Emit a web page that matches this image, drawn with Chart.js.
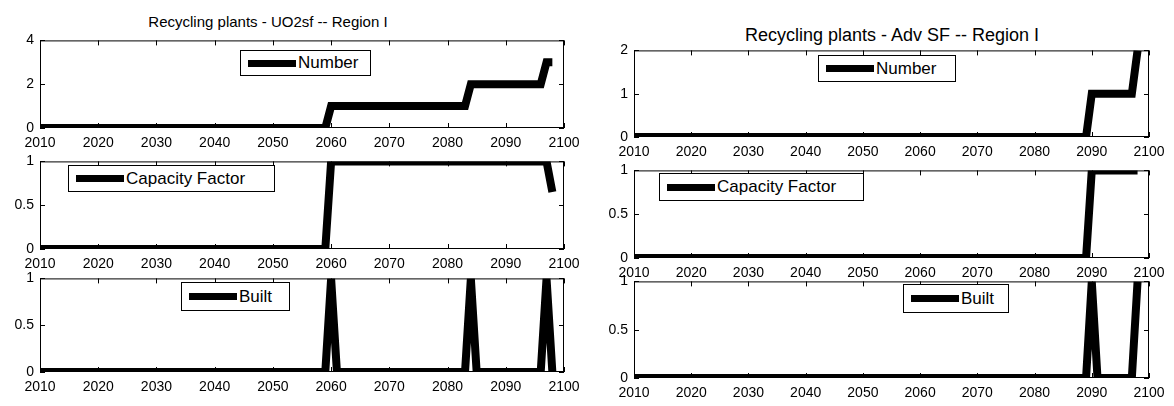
<!DOCTYPE html>
<html>
<head>
<meta charset="utf-8">
<script src="https://cdn.jsdelivr.net/npm/chart.js@4.4.1/dist/chart.umd.min.js"></script>
<style>
  html, body { margin:0; padding:0; background:#fff; }
  body { width:1174px; height:406px; position:relative; overflow:hidden; font-family:"Liberation Sans", Arial, sans-serif; }
  canvas { position:absolute; }
  .title { position:absolute; white-space:nowrap; color:#000; transform:translateX(-50%); }
  .legend { position:absolute; border:1px solid #000; background:#fff; box-sizing:border-box;
            display:flex; align-items:center; color:#000; white-space:nowrap; z-index:2; }
  .legend .bar { width:48px; height:7px; background:#000; margin-left:7px; margin-right:2px; flex:none; }
</style>
</head>
<body>
<div class="title" id="t1" style="left:268px; top:13px; font-size:15px;">Recycling plants - UO2sf -- Region I</div>
<div class="title" id="t2" style="left:892px; top:25px; font-size:18px;">Recycling plants - Adv SF -- Region I</div>

<canvas id="c1"></canvas><canvas id="c2"></canvas><canvas id="c3"></canvas>
<canvas id="c4"></canvas><canvas id="c5"></canvas><canvas id="c6"></canvas>

<div class="legend" style="left:240px; top:50px; width:131px; height:26px; font-size:17px;"><span class="bar"></span>Number</div>
<div class="legend" style="left:68px; top:165px; width:207px; height:27px; font-size:17px;"><span class="bar"></span>Capacity Factor</div>
<div class="legend" style="left:181px; top:282px; width:109px; height:29px; font-size:17px;"><span class="bar"></span>Built</div>
<div class="legend" style="left:818px; top:55px; width:138px; height:27px; font-size:17px;"><span class="bar"></span>Number</div>
<div class="legend" style="left:659px; top:173px; width:205px; height:28px; font-size:17px;"><span class="bar"></span>Capacity Factor</div>
<div class="legend" style="left:903px; top:284px; width:106px; height:29px; font-size:17px;"><span class="bar"></span>Built</div>

<script>
// ---------- data ----------
const years = [
  2010,2011,2012,2013,2014,2015,2016,2017,2018,2019,
  2020,2021,2022,2023,2024,2025,2026,2027,2028,2029,
  2030,2031,2032,2033,2034,2035,2036,2037,2038,2039,
  2040,2041,2042,2043,2044,2045,2046,2047,2048,2049,
  2050,2051,2052,2053,2054,2055,2056,2057,2058,2059,
  2060,2061,2062,2063,2064,2065,2066,2067,2068,2069,
  2070,2071,2072,2073,2074,2075,2076,2077,2078,2079,
  2080,2081,2082,2083,2084,2085,2086,2087,2088,2089,
  2090,2091,2092,2093,2094,2095,2096,2097,2098
];
const xTickLabels = [2010,2020,2030,2040,2050,2060,2070,2080,2090,2100];

// UO2sf (left column)
const uo2Number = [
  0,0,0,0,0,0,0,0,0,0,
  0,0,0,0,0,0,0,0,0,0,
  0,0,0,0,0,0,0,0,0,0,
  0,0,0,0,0,0,0,0,0,0,
  0,0,0,0,0,0,0,0,0,0,
  1,1,1,1,1,1,1,1,1,1,
  1,1,1,1,1,1,1,1,1,1,
  1,1,1,1,2,2,2,2,2,2,
  2,2,2,2,2,2,2,3,3
];
const uo2CapFactor = [
  0,0,0,0,0,0,0,0,0,0,
  0,0,0,0,0,0,0,0,0,0,
  0,0,0,0,0,0,0,0,0,0,
  0,0,0,0,0,0,0,0,0,0,
  0,0,0,0,0,0,0,0,0,0,
  1,1,1,1,1,1,1,1,1,1,
  1,1,1,1,1,1,1,1,1,1,
  1,1,1,1,1,1,1,1,1,1,
  1,1,1,1,1,1,1,1,0.65
];
const uo2Built = [
  0,0,0,0,0,0,0,0,0,0,
  0,0,0,0,0,0,0,0,0,0,
  0,0,0,0,0,0,0,0,0,0,
  0,0,0,0,0,0,0,0,0,0,
  0,0,0,0,0,0,0,0,0,0,
  1,0,0,0,0,0,0,0,0,0,
  0,0,0,0,0,0,0,0,0,0,
  0,0,0,0,1,0,0,0,0,0,
  0,0,0,0,0,0,0,1,0
];

// Adv SF (right column)
const advNumber = [
  0,0,0,0,0,0,0,0,0,0,
  0,0,0,0,0,0,0,0,0,0,
  0,0,0,0,0,0,0,0,0,0,
  0,0,0,0,0,0,0,0,0,0,
  0,0,0,0,0,0,0,0,0,0,
  0,0,0,0,0,0,0,0,0,0,
  0,0,0,0,0,0,0,0,0,0,
  0,0,0,0,0,0,0,0,0,0,
  1,1,1,1,1,1,1,1,2
];
const advCapFactor = [
  0,0,0,0,0,0,0,0,0,0,
  0,0,0,0,0,0,0,0,0,0,
  0,0,0,0,0,0,0,0,0,0,
  0,0,0,0,0,0,0,0,0,0,
  0,0,0,0,0,0,0,0,0,0,
  0,0,0,0,0,0,0,0,0,0,
  0,0,0,0,0,0,0,0,0,0,
  0,0,0,0,0,0,0,0,0,0,
  1,1,1,1,1,1,1,1,1
];
const advBuilt = [
  0,0,0,0,0,0,0,0,0,0,
  0,0,0,0,0,0,0,0,0,0,
  0,0,0,0,0,0,0,0,0,0,
  0,0,0,0,0,0,0,0,0,0,
  0,0,0,0,0,0,0,0,0,0,
  0,0,0,0,0,0,0,0,0,0,
  0,0,0,0,0,0,0,0,0,0,
  0,0,0,0,0,0,0,0,0,0,
  1,0,0,0,0,0,0,0,1
];

const yTicksNumberUO2 = [0,2,4];
const yTicksNumberAdv = [0,1,2];
const yTicksFraction  = [0,0.5,1];

// ---------- drawing ----------
const YW = 40, PT = 12, PR = 26, XH = 24;
const FONT = { family: '"Liberation Sans", Arial, sans-serif', size: 14 };

const boxTicks = {
  id: 'boxTicks',
  afterDatasetsDraw(chart) {
    const { ctx, chartArea: a, scales: { x, y } } = chart;
    ctx.save();
    ctx.strokeStyle = '#000';
    ctx.lineWidth = 1;
    ctx.strokeRect(a.left + 0.5, a.top + 0.5, a.right - a.left - 1, a.bottom - a.top - 1);
    ctx.beginPath();
    x.ticks.forEach(t => {
      const px = Math.round(x.getPixelForValue(t.value)) + 0.5;
      ctx.moveTo(px, a.bottom); ctx.lineTo(px, a.bottom - 5);
      ctx.moveTo(px, a.top);    ctx.lineTo(px, a.top + 5);
    });
    y.ticks.forEach(t => {
      const py = Math.round(y.getPixelForValue(t.value)) + 0.5;
      ctx.moveTo(a.left, py);  ctx.lineTo(a.left + 5, py);
      ctx.moveTo(a.right, py); ctx.lineTo(a.right - 5, py);
    });
    ctx.stroke();
    ctx.restore();
  }
};

function makeChart(id, box, values, yTicks, label) {
  const cv = document.getElementById(id);
  const w = (box.r - box.l) + YW + PR;
  const h = (box.b - box.t) + PT + XH;
  cv.width = w; cv.height = h;
  cv.style.left = (box.l - YW) + 'px';
  cv.style.top = (box.t - PT) + 'px';
  cv.style.width = w + 'px'; cv.style.height = h + 'px';
  const pts = years.map((yr, i) => ({ x: yr, y: values[i] }));
  const yStep = yTicks[1] - yTicks[0];
  return new Chart(cv, {
    type: 'line',
    data: { datasets: [{
      label: label, data: pts,
      borderColor: '#000', backgroundColor: '#000',
      borderWidth: 8, pointRadius: 0, tension: 0, fill: false, clip: 0,
      borderJoinStyle: 'miter'
    }]},
    options: {
      responsive: false, animation: false, devicePixelRatio: 1,
      layout: { padding: { left: 0, top: PT, right: PR, bottom: 0 } },
      plugins: { legend: { display: false }, tooltip: { enabled: false }, title: { display: false } },
      scales: {
        x: {
          type: 'linear', min: xTickLabels[0], max: xTickLabels[xTickLabels.length - 1],
          grid: { display: false, drawTicks: false }, border: { display: false },
          ticks: {
            stepSize: xTickLabels[1] - xTickLabels[0], autoSkip: false, maxRotation: 0,
            color: '#000', font: FONT, padding: 7,
            callback: v => xTickLabels.includes(v) ? String(v) : ''
          },
          afterFit: s => { s.height = XH; }
        },
        y: {
          type: 'linear', min: yTicks[0], max: yTicks[yTicks.length - 1],
          grid: { display: false, drawTicks: false }, border: { display: false },
          ticks: {
            stepSize: yStep, color: '#000', font: FONT, padding: 6,
            callback: v => yTicks.includes(v) ? String(v) : ''
          },
          afterFit: s => { s.width = YW; }
        }
      }
    },
    plugins: [boxTicks]
  });
}

makeChart('c1', { l: 40,  r: 564,  t: 38,  b: 128 }, uo2Number,    yTicksNumberUO2, 'Number');
makeChart('c2', { l: 40,  r: 564,  t: 159, b: 249 }, uo2CapFactor, yTicksFraction,  'Capacity Factor');
makeChart('c3', { l: 40,  r: 564,  t: 276, b: 372 }, uo2Built,     yTicksFraction,  'Built');
makeChart('c4', { l: 634, r: 1149, t: 48,  b: 137 }, advNumber,    yTicksNumberAdv, 'Number');
makeChart('c5', { l: 634, r: 1149, t: 168, b: 258 }, advCapFactor, yTicksFraction,  'Capacity Factor');
makeChart('c6', { l: 634, r: 1149, t: 279, b: 378 }, advBuilt,     yTicksFraction,  'Built');
</script>
</body>
</html>
